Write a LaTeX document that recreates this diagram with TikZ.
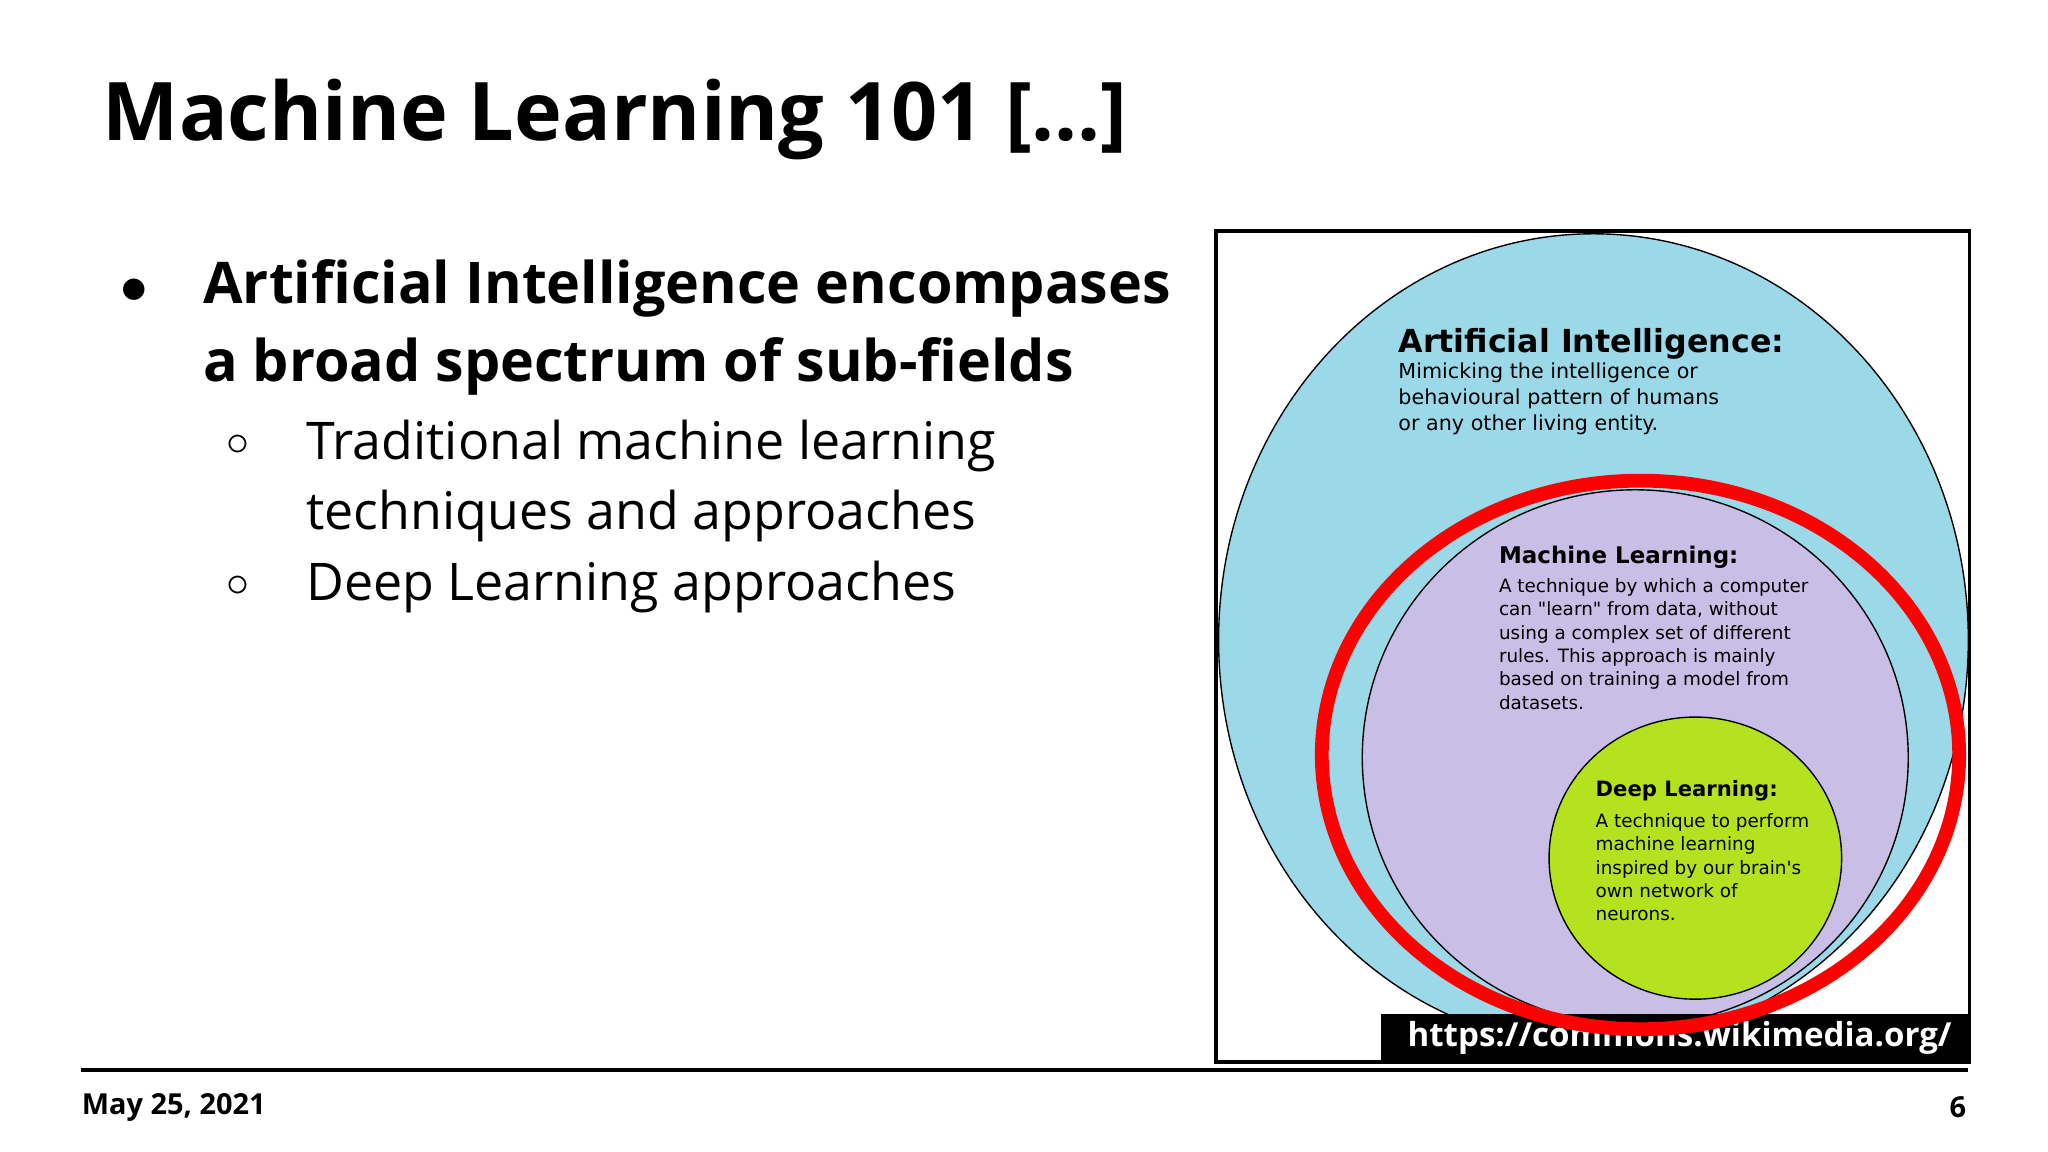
\documentclass[tikz,border=0pt]{standalone}
\usepackage{fontspec}
\setmainfont{Open Sans}
\newfontfamily\djvu{DejaVu Sans}
\begin{document}
\begin{tikzpicture}[x=0.01cm,y=-0.01cm,
  txt/.style={anchor=north west,inner sep=0,align=left},
  dtxt/.style={txt,text=black}]
\useasboundingbox (0,0) rectangle (1568,882);
\fill[white] (0,0) rectangle (1568,882);
\node[txt,font=\fontsize{17.6}{20}\selectfont\bfseries] (title) at (78,60) {Machine Learning 101 [...]};
\node[txt,font=\fontsize{12.5}{17}\selectfont\bfseries] (b1) at (155,198) {Artificial Intelligence encompases\\a broad spectrum of sub-fields};
\node[anchor=center,font=\fontsize{12}{12}\selectfont] (dot1) at (103,223) {$\bullet$};
\node[txt,font=\fontsize{11.3}{15.3}\selectfont] (b2) at (234,321) {Traditional machine learning\\techniques and approaches};
\node[txt,font=\fontsize{11.3}{15.3}\selectfont] (b3) at (234,429) {Deep Learning approaches};
\node[anchor=center,font=\fontsize{10}{10}\selectfont] (c1) at (182,341) {$\circ$};
\node[anchor=center,font=\fontsize{10}{10}\selectfont] (c2) at (182,449) {$\circ$};
% footer
\draw[line width=0.9pt] (62,819) -- (1507,819);
\node[anchor=west,inner sep=0,font=\fontsize{6.3}{7}\selectfont\bfseries] (date) at (62,848) {May 25, 2021};
\node[anchor=east,inner sep=0,font=\fontsize{6.3}{7}\selectfont\bfseries] (pg) at (1506,848) {6};
% diagram
\begin{scope}
\clip (931,177) rectangle (1508,813);
\draw[fill={rgb,255:red,155;green,216;blue,232},line width=0.3pt] (1220,490) ellipse [x radius=287, y radius=311];
\draw[fill={rgb,255:red,200;green,190;blue,230},line width=0.3pt] (1252,580) ellipse [x radius=209, y radius=205];
\draw[fill={rgb,255:red,180;green,226;blue,30},line width=0.3pt] (1298,657) ellipse [x radius=112, y radius=108];
\end{scope}
\node[dtxt,font=\djvu\fontsize{6.9}{7}\selectfont\bfseries] (ait) at (1070,251) {Artificial Intelligence:};
\node[dtxt,font=\djvu\fontsize{4.5}{5.7}\selectfont] (aib) at (1070,277) {Mimicking the intelligence or\\behavioural pattern of humans\\or any other living entity.};
\node[dtxt,font=\djvu\fontsize{5}{6}\selectfont\bfseries] (mlt) at (1147,417) {Machine Learning:};
\node[dtxt,font=\djvu\fontsize{4}{5.1}\selectfont] (mlb) at (1147,442) {A technique by which a computer\\can "learn" from data, without\\using a complex set of different\\rules. This approach is mainly\\based on training a model from\\datasets.};
\node[dtxt,font=\djvu\fontsize{4.6}{6}\selectfont\bfseries] (dlt) at (1221,597) {Deep Learning:};
\node[dtxt,font=\djvu\fontsize{4}{5.1}\selectfont] (dlb) at (1221,622) {A technique to perform\\machine learning\\inspired by our brain's\\own network of\\neurons.};
\fill[black] (1057,776) rectangle (1508,813);
\node[anchor=center,inner sep=0,text=white,font=\fontsize{7.2}{8}\selectfont\bfseries] (url) at (1286,795) {https://commons.wikimedia.org/};
\draw[line width=0.8pt] (931,177) rectangle (1508,813);
\draw[red,line width=3pt] (1256,578) ellipse [x radius=244, y radius=210];
\end{tikzpicture}
\end{document}
